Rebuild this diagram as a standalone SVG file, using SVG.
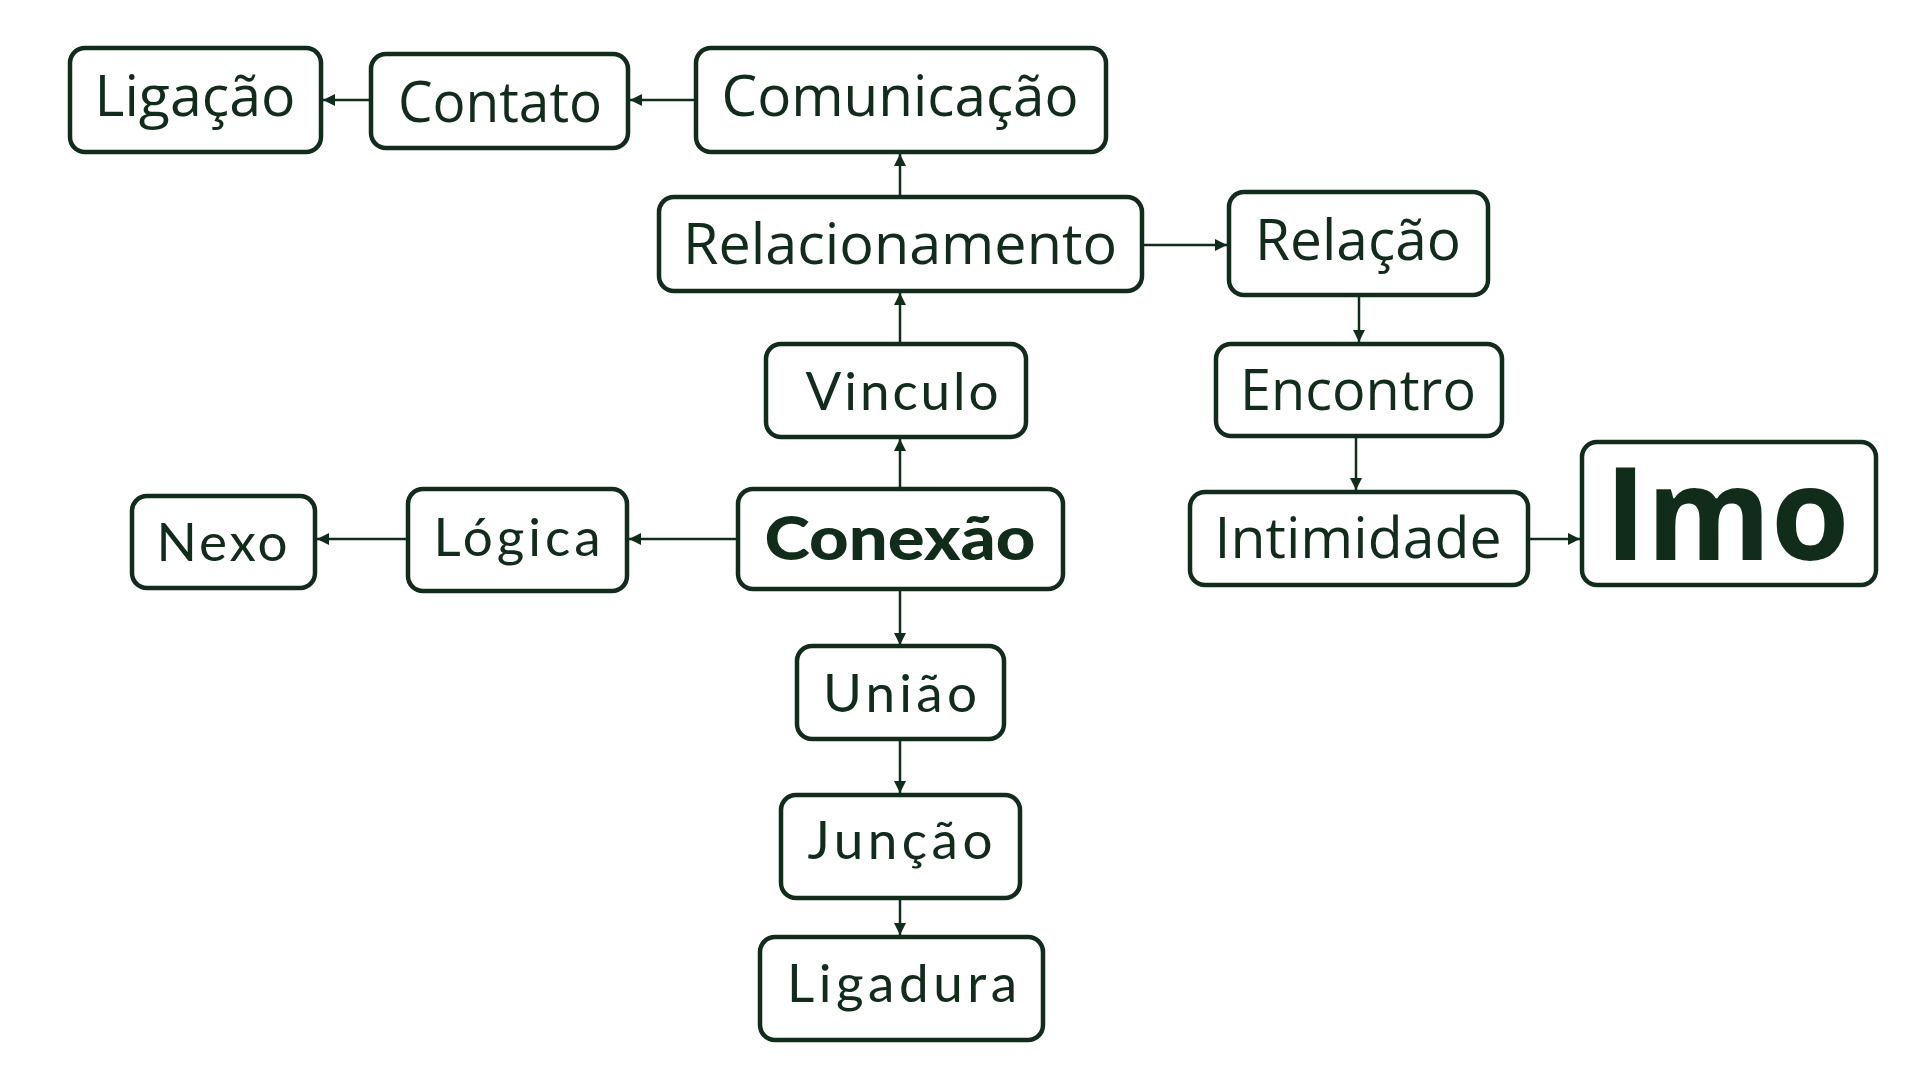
<svg xmlns="http://www.w3.org/2000/svg" width="1920" height="1080" viewBox="0 0 1920 1080">
<style>
.box{fill:#fff;stroke:#122c1c;stroke-width:4.5}
.a{font-family:"Open Sans","Noto Sans",sans-serif;font-size:57px;fill:#122c1c;text-anchor:middle}
.b{font-family:Lato,"Noto Sans",sans-serif;font-size:53px;font-weight:normal;fill:#122c1c;text-anchor:middle}
.bb{font-family:Lato,"Noto Sans",sans-serif;font-size:60px;font-weight:900;fill:#122c1c;text-anchor:middle}
.big{font-family:"Open Sans","Noto Sans",sans-serif;font-size:130px;font-weight:bold;fill:#122c1c;text-anchor:middle}
.c{stroke:#122c1c;stroke-width:2.5;fill:none;marker-end:url(#ar)}
</style>
<defs>
<marker id="ar" viewBox="0 0 10 10" refX="10" refY="5" markerWidth="12" markerHeight="12" markerUnits="userSpaceOnUse" orient="auto">
<path d="M0,0 L10,5 L0,10 Z" fill="#122c1c"/>
</marker>
</defs>
<rect width="1920" height="1080" fill="#fff"/>
<g id="connectors">
<line class="c" x1="371" y1="100" x2="323" y2="100"/>
<line class="c" x1="696" y1="100" x2="630" y2="100"/>
<line class="c" x1="900" y1="197" x2="900" y2="154"/>
<line class="c" x1="900" y1="344" x2="900" y2="293"/>
<line class="c" x1="900" y1="489" x2="900" y2="439"/>
<line class="c" x1="1142" y1="245" x2="1227" y2="245"/>
<line class="c" x1="1359" y1="295" x2="1359" y2="342"/>
<line class="c" x1="1356" y1="436" x2="1356" y2="490"/>
<line class="c" x1="1528" y1="539" x2="1580" y2="539"/>
<line class="c" x1="738" y1="539" x2="629" y2="539"/>
<line class="c" x1="408" y1="539" x2="317" y2="539"/>
<line class="c" x1="900" y1="589" x2="900" y2="645"/>
<line class="c" x1="900" y1="738" x2="900" y2="793"/>
<line class="c" x1="900" y1="898" x2="900" y2="935"/>
</g>
<g id="ligacao"><rect class="box" x="70" y="48" width="251" height="104" rx="15"/><text class="a" x="195" y="116" textLength="201" lengthAdjust="spacingAndGlyphs">Ligação</text></g>
<g id="contato"><rect class="box" x="371" y="54" width="257" height="94" rx="15"/><text class="a" x="500" y="122" textLength="204" lengthAdjust="spacingAndGlyphs">Contato</text></g>
<g id="comunicacao"><rect class="box" x="696" y="48" width="410" height="104" rx="15"/><text class="a" x="900" y="116" textLength="357" lengthAdjust="spacingAndGlyphs">Comunicação</text></g>
<g id="relacionamento"><rect class="box" x="659" y="197" width="483" height="94" rx="15"/><text class="a" x="900" y="264" textLength="434" lengthAdjust="spacingAndGlyphs">Relacionamento</text></g>
<g id="relacao"><rect class="box" x="1229" y="192" width="259" height="103" rx="15"/><text class="a" x="1358" y="260" textLength="206" lengthAdjust="spacingAndGlyphs">Relação</text></g>
<g id="vinculo"><rect class="box" x="766" y="344" width="260" height="93" rx="15"/><text class="b" x="902" y="410" textLength="193" lengthAdjust="spacing">Vinculo</text></g>
<g id="encontro"><rect class="box" x="1216" y="344" width="286" height="92" rx="15"/><text class="a" x="1358" y="410" textLength="236" lengthAdjust="spacingAndGlyphs">Encontro</text></g>
<g id="conexao"><rect class="box" x="738" y="489" width="325" height="100" rx="15"/><text class="bb" x="900" y="560" textLength="271" lengthAdjust="spacingAndGlyphs">Conexão</text></g>
<g id="logica"><rect class="box" x="408" y="489" width="219" height="102" rx="15"/><text class="b" x="517" y="556" textLength="167" lengthAdjust="spacing">Lógica</text></g>
<g id="nexo"><rect class="box" x="132" y="496" width="183" height="92" rx="15"/><text class="b" x="222" y="561" textLength="131" lengthAdjust="spacing">Nexo</text></g>
<g id="intimidade"><rect class="box" x="1190" y="492" width="338" height="93" rx="15"/><text class="a" x="1358" y="558" textLength="287" lengthAdjust="spacingAndGlyphs">Intimidade</text></g>
<g id="imo"><rect class="box" x="1582" y="442" width="294" height="143" rx="15"/><text class="big" x="1727" y="560" textLength="245" lengthAdjust="spacingAndGlyphs">Imo</text></g>
<g id="uniao"><rect class="box" x="797" y="646" width="207" height="93" rx="15"/><text class="b" x="900" y="712" textLength="154" lengthAdjust="spacing">União</text></g>
<g id="juncao"><rect class="box" x="781" y="795" width="239" height="103" rx="15"/><text class="b" x="900" y="859" textLength="185" lengthAdjust="spacing">Junção</text></g>
<g id="ligadura"><rect class="box" x="760" y="937" width="283" height="103" rx="15"/><text class="b" x="902" y="1002" textLength="230" lengthAdjust="spacing">Ligadura</text></g>
</svg>
